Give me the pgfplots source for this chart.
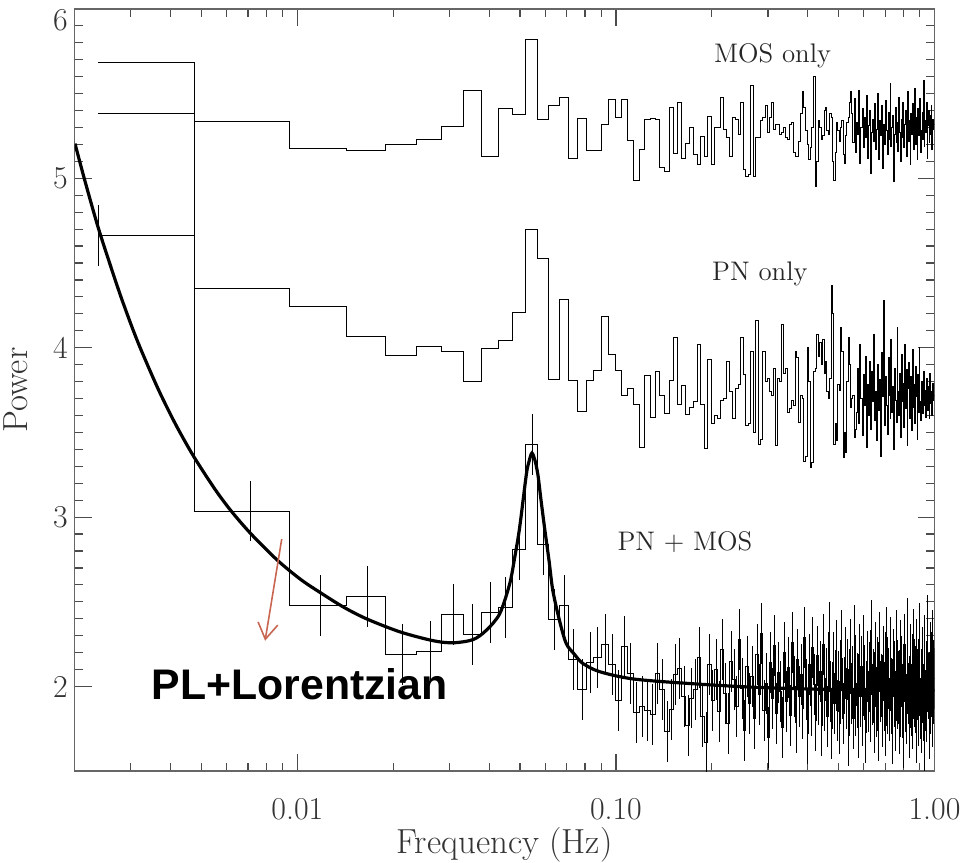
\documentclass[border=0pt]{standalone}
\usepackage{fontspec}
\usepackage{pgfplots}
\usepackage{pgfplotstable}
\pgfplotsset{compat=1.18}
\usetikzlibrary{arrows.meta}
\newfontfamily\plfont{Liberation Sans}
\definecolor{arrowred}{RGB}{200,102,82}

\pgfplotstableread{
e f mos pn both
0.00237 0.00237 5.685 5.382 4.665
0.00474 0.00711 5.333 4.35 3.036
0.00948 0.01185 5.177 4.243 2.477
0.01422 0.01659 5.167 4.066 2.534
0.01896 0.02133 5.20 3.955 2.186
0.0237 0.02607 5.23 4.008 2.205
0.02844 0.03081 5.304 3.978 2.424
0.03318 0.03555 5.519 3.798 2.309
0.03792 0.04029 5.13 3.994 2.436
0.04266 0.04503 5.41 4.043 2.465
0.0474 0.04977 5.376 4.209 2.811
0.05214 0.05451 5.82 4.698 3.427
0.05688 0.05925 5.349 4.526 2.841
0.06162 0.06399 5.429 3.815 2.395
0.06636 0.06873 5.48 4.285 2.477
0.0711 0.07347 5.118 3.808 2.16
0.07584 0.07821 5.351 3.622 1.98
0.08058 0.08295 5.167 3.808 2.14
0.08532 0.08769 5.167 3.865 2.17
0.09006 0.09243 5.320 4.185 2.248
0.0948 0.09717 5.468 3.96 2.131
0.09954 0.10191 5.359 3.865 1.918
0.10428 0.10665 5.468 3.72 2.239
0.10902 0.11139 5.222 3.757 2.078
0.11376 0.11613 4.987 3.662 1.847
0.1185 0.12087 5.171 3.413 1.879
0.12324 0.12561 5.347 3.838 1.859
0.12798 0.13035 5.355 3.59 1.834
0.13272 0.13509 5.347 3.857 2.074
0.13746 0.13983 5.066 3.716 1.98
0.1422 0.14457 5.038 3.613 1.736
0.14694 0.14931 5.417 3.805 1.863
0.15168 0.15405 5.144 4.063 2.068
0.15642 0.15879 5.449 3.662 2.108
0.16116 0.16353 5.118 3.779 1.941
0.1659 0.16827 5.206 3.607 1.769
0.17064 0.17301 5.300 3.646 1.932
0.17538 0.17775 5.140 3.681 1.98
0.18012 0.18249 5.081 4.019 2.17
0.18486 0.18723 5.245 3.662 1.824
0.1896 0.19197 5.128 3.404 1.667
0.19434 0.19671 5.363 3.93 2.127
0.19908 0.20145 5.08 3.55 1.92
0.20382 0.20619 5.30 3.60 2.10
0.20856 0.21093 5.30 3.58 1.85
0.2133 0.21567 5.48 3.69 2.22
0.21804 0.22041 5.29 3.70 1.96
0.22278 0.22515 5.24 3.92 1.78
0.22752 0.22989 5.13 3.74 2.15
0.23226 0.23463 5.36 3.58 2.04
0.237 0.23937 5.35 3.76 1.88
0.24174 0.24411 5.26 3.78 2.28
0.24648 0.24885 5.45 4.06 1.99
0.25122 0.25359 5.05 3.84 1.74
0.25596 0.25833 5.01 3.54 2.12
0.2607 0.26307 5.02 3.55 1.90
0.26544 0.26781 5.55 3.98 2.06
0.27018 0.27255 5.01 3.50 1.81
0.27492 0.27729 5.24 4.16 2.19
0.27966 0.28203 5.24 3.43 1.95
0.2844 0.28677 5.34 3.46 2.31
0.28914 0.29151 5.36 3.98 1.86
0.29388 0.29625 5.43 3.80 2.02
0.29862 0.30099 5.27 3.82 1.70
0.30336 0.30573 5.36 3.74 2.14
0.3081 0.31047 5.45 3.72 1.93
0.31284 0.31521 5.29 3.88 2.24
0.31758 0.31995 5.32 3.42 1.84
0.32232 0.32469 5.32 3.82 2.08
0.32706 0.32943 5.26 3.80 1.97
0.3318 0.33417 5.27 4.14 1.76
0.33654 0.33891 5.30 3.85 2.20
0.34128 0.34365 5.24 3.88 1.91
0.34602 0.34839 5.23 3.62 2.11
0.35076 0.35313 5.32 3.64 1.83
0.3555 0.35787 5.33 3.69 2.26
0.36024 0.36261 5.15 3.66 2.00
0.36498 0.36735 5.13 3.98 1.79
0.36972 0.37209 5.13 3.94 2.16
0.37446 0.37683 5.22 3.56 1.94
0.3792 0.38157 5.38 3.72 2.07
0.38394 0.38631 5.51 3.70 1.87
0.38868 0.39105 5.42 3.33 2.29
0.39342 0.39579 5.28 3.36 1.98
0.39816 0.40053 5.20 4.00 1.72
0.4029 0.40527 5.11 3.80 2.13
0.40764 0.41001 5.18 3.29 1.89
0.41238 0.41475 5.30 3.32 2.23
0.41712 0.41949 5.60 3.86 2.01
0.42186 0.42423 4.95 3.88 1.80
0.4266 0.42897 5.10 4.08 2.18
0.43134 0.43371 5.34 3.95 1.95
0.43608 0.43845 5.30 4.03 2.09
0.44082 0.44319 5.23 3.90 1.77
0.44556 0.44793 5.25 4.05 2.25
0.4503 0.45267 5.40 3.85 1.92
0.45504 0.45741 5.42 3.92 2.05
0.45978 0.46215 5.28 3.74 1.82
0.46452 0.46689 5.26 3.70 2.32
0.46926 0.47163 5.38 3.82 1.97
0.474 0.47637 5.36 4.37 1.75
0.47874 0.48111 5.10 4.20 2.14
0.48348 0.48585 4.99 3.43 1.90
0.48822 0.49059 5.15 3.55 2.21
0.49296 0.49533 5.33 3.45 1.86
0.4977 0.50007 5.28 3.78 2.03
0.50244 0.50481 5.22 3.75 1.78
0.50718 0.50955 5.30 4.12 2.27
0.51192 0.51429 5.34 3.98 1.99
0.51666 0.51903 5.14 3.35 1.84
0.5214 0.52377 5.09 3.50 2.17
0.52614 0.52851 5.25 3.38 1.93
0.53088 0.53325 5.33 3.80 2.10
0.53562 0.53799 5.36 4.06 1.71
0.54036 0.54273 5.45 3.90 2.22
0.5451 0.54747 5.51 3.65 1.96
0.54984 0.55221 5.38 3.70 2.06
0.55458 0.55695 5.21 3.72 1.81
0.55932 0.56169 5.47 3.47 2.30
0.56406 0.56643 5.15 3.52 1.89
0.5688 0.57117 5.33 3.62 2.02
0.57354 0.57591 5.26 3.88 1.76
0.57828 0.58065 5.52 3.55 2.19
0.58302 0.58539 5.09 4.02 1.94
0.58776 0.59013 5.30 3.70 2.12
0.5925 0.59487 5.41 3.48 1.83
0.59724 0.59961 5.18 3.84 2.24
0.60198 0.60435 5.36 3.66 1.98
0.60672 0.60909 5.24 3.95 1.73
0.61146 0.61383 5.49 3.41 2.15
0.6162 0.61857 5.12 3.78 1.91
0.62094 0.62331 5.31 3.60 2.08
0.62568 0.62805 5.40 3.92 1.85
0.63042 0.63279 5.03 3.52 2.33
0.63516 0.63753 5.27 3.86 1.95
0.6399 0.64227 5.35 3.68 2.04
0.64464 0.64701 5.22 4.08 1.79
0.64938 0.65175 5.44 3.57 2.20
0.65412 0.65649 5.17 3.74 1.88
0.65886 0.66123 5.29 3.45 2.11
0.6636 0.66597 5.50 3.90 1.74
0.66834 0.67071 5.11 3.63 2.26
0.67308 0.67545 5.34 3.81 1.97
0.67782 0.68019 5.25 3.36 2.01
0.68256 0.68493 5.43 3.97 1.82
0.6873 0.68967 5.06 3.71 2.18
0.69204 0.69441 5.32 4.28 1.92
0.69678 0.69915 5.20 3.54 2.14
0.70152 0.70389 5.46 3.83 1.77
0.70626 0.70863 5.28 3.66 2.29
0.711 0.71337 5.14 3.49 1.90
0.71574 0.71811 5.39 3.94 2.05
0.72048 0.72285 5.23 3.72 1.86
0.72522 0.72759 5.56 3.58 2.23
0.72996 0.73233 5.19 4.05 1.99
0.7347 0.73707 5.30 3.62 1.72
0.73944 0.74181 5.37 3.77 2.16
0.74418 0.74655 4.98 3.40 1.94
0.74892 0.75129 5.26 3.88 2.09
0.75366 0.75603 5.42 3.69 1.80
0.7584 0.76077 5.21 3.56 2.27
0.76314 0.76551 5.33 4.12 1.93
0.76788 0.77025 5.16 3.74 2.03
0.77262 0.77499 5.48 3.60 1.78
0.77736 0.77973 5.27 3.85 2.21
0.7821 0.78447 5.10 3.47 1.88
0.78684 0.78921 5.35 3.96 2.12
0.79158 0.79395 5.24 3.68 1.95
0.79632 0.79869 5.45 3.79 1.70
0.80106 0.80343 5.18 3.53 2.25
0.8058 0.80817 5.32 4.02 1.91
0.81054 0.81291 5.40 3.64 2.07
0.81528 0.81765 5.13 3.87 1.84
0.82002 0.82239 5.29 3.42 2.34
0.82476 0.82713 5.51 3.76 1.96
0.8295 0.83187 5.22 3.91 2.00
0.83424 0.83661 5.34 3.58 1.76
0.83898 0.84135 5.08 3.70 2.19
0.84372 0.84609 5.38 3.83 1.89
0.84846 0.85083 5.26 3.51 2.13
0.8532 0.85557 5.44 3.99 1.81
0.85794 0.86031 5.17 3.65 2.28
0.86268 0.86505 5.30 3.78 1.94
0.86742 0.86979 5.53 3.55 2.06
0.87216 0.87453 5.20 3.89 1.73
0.8769 0.87927 5.36 3.71 2.22
0.88164 0.88401 5.11 3.46 1.98
0.88638 0.88875 5.41 3.84 2.10
0.89112 0.89349 5.25 3.62 1.83
0.89586 0.89823 5.33 4.00 2.31
0.9006 0.90297 5.47 3.68 1.87
0.90534 0.90771 5.15 3.57 2.04
0.91008 0.91245 5.28 3.80 1.79
0.91482 0.91719 5.39 3.73 2.17
0.91956 0.92193 5.23 3.61 1.95
0.9243 0.92667 5.58 3.86 1.68
0.92904 0.93141 5.19 3.66 2.24
0.93378 0.93615 5.34 3.75 1.92
0.93852 0.94089 5.27 3.59 2.09
0.94326 0.94563 5.45 3.82 1.85
0.948 0.95037 5.12 3.70 2.36
0.95274 0.95511 5.31 3.63 1.99
0.95748 0.95985 5.40 3.77 2.02
0.96222 0.96459 5.21 3.58 1.75
0.96696 0.96933 5.37 3.85 2.20
0.9717 0.97407 5.26 3.67 1.90
0.97644 0.97881 5.43 3.74 2.14
0.98118 0.98355 5.17 3.60 1.82
0.98592 0.98829 5.35 3.79 2.27
0.99066 0.99303 5.29 3.69 1.96
0.9954 0.99777 5.32 3.72 2.05
1.0 0.99777 5.32 3.72 2.05
}\spec

\pgfplotstableread{
f y
0.002004 5.205
0.002153 4.985
0.002371 4.708
0.002610 4.465
0.002800 4.295
0.003013 4.131
0.003200 4.006
0.003479 3.847
0.003700 3.735
0.004017 3.598
0.004300 3.493
0.004751 3.351
0.005500 3.167
0.006185 3.038
0.007143 2.902
0.008660 2.745
0.01024 2.632
0.01183 2.553
0.01398 2.468
0.01655 2.398
0.02103 2.322
0.02673 2.270
0.03086 2.258
0.03563 2.277
0.03925 2.333
0.04318 2.430
0.04640 2.606
0.04810 2.760
0.04986 2.938
0.05233 3.251
0.05340 3.330
0.05449 3.378
0.05570 3.335
0.05689 3.251
0.05820 3.100
0.05969 2.938
0.06170 2.740
0.06337 2.567
0.06650 2.390
0.06981 2.254
0.07410 2.190
0.07863 2.137
0.08867 2.088
0.1127 2.045
0.1655 2.019
0.2673 1.996
0.4318 1.984
0.6981 1.981
1.0 1.977
}\fit

\begin{document}
\begin{tikzpicture}
\begin{axis}[
  scale only axis, width=432pt, height=383pt,
  xmode=log, xmin=0.002, xmax=1, ymin=1.5, ymax=6,
  xtick={0.01,0.1,1}, xticklabels={0.01,0.10,1.00},
  minor xtick={0.002,0.003,0.004,0.005,0.006,0.007,0.008,0.009,0.02,0.03,0.04,0.05,0.06,0.07,0.08,0.09,0.2,0.3,0.4,0.5,0.6,0.7,0.8,0.9},
  ytick={2,3,4,5,6}, yticklabels={2,3,4,5,{\raisebox{-10.6pt}[0pt][0pt]{6}}},
  minor y tick num=9,
  major tick length=8.5pt, minor tick length=4.2pt,
  tick style={black!70, line width=0.6pt},
  axis line style={black!60, line width=0.7pt},
  ticklabel style={font=\fontsize{16}{18}\selectfont, text=black!80},
  xticklabel style={yshift=-10pt},
  xlabel={Frequency (Hz)}, ylabel={Power},
  label style={font=\fontsize{17.5}{20}\selectfont, text=black!80},
  xlabel style={inner sep=0pt, at={([yshift=-37pt]axis description cs:0.5,0)}, anchor=center},
  ylabel style={inner sep=2pt, at={([xshift=-29.5pt]axis description cs:0,0.5)}, anchor=center},
]
\addplot[black, line width=0.5pt, const plot mark left] table[x=e, y=mos] {\spec};
\addplot[black, line width=0.5pt, const plot mark left] table[x=e, y=pn] {\spec};
\addplot[black, line width=0.5pt, const plot mark left] table[x=e, y=both] {\spec};
\addplot[only marks, mark=*, mark size=0pt, mark options={draw=none, fill=none}, error bars/.cd, y dir=both, y fixed=0.18, error mark=none, error bar style={black, line width=0.4pt}] table[x=f, y=both, skip coords between index={211}{212}] {\spec};
\addplot[black, line width=1.6pt, smooth] table[x=f, y=y] {\fit};

\node[anchor=base west, inner sep=0, font=\fontsize{13.5}{16}\selectfont, text=black!85] at (axis cs:0.2028,5.683) {MOS only};
\node[anchor=base west, inner sep=0, font=\fontsize{13.5}{16}\selectfont, text=black!85] at (axis cs:0.2,4.399) {PN only};
\node[anchor=base west, inner sep=0, font=\fontsize{13.5}{16}\selectfont, text=black!85] at (axis cs:0.1009,2.802) {PN + MOS};
\node[anchor=base west, inner sep=0, font=\plfont\bfseries\fontsize{21.5}{24}\selectfont] at (axis cs:0.003479,1.9255) {PL+Lorentzian};
\draw[arrowred, line width=0.8pt, -{Straight Barb[length=8pt,width=10pt]}] (axis cs:0.00893,2.870) -- (axis cs:0.00792,2.270);
\end{axis}
\path ([yshift=4.5pt]current axis.north);
\end{tikzpicture}
\end{document}
